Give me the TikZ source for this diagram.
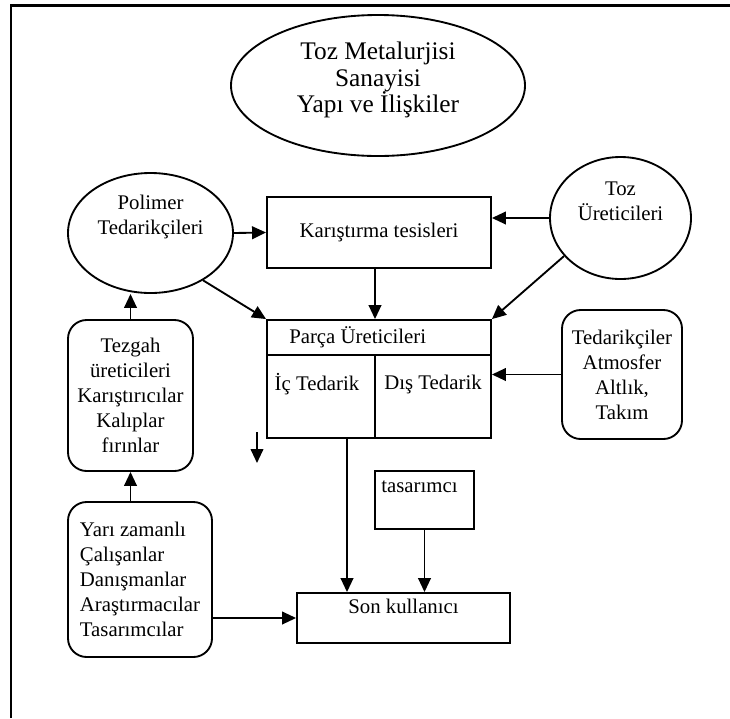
\documentclass[tikz,border=0pt]{standalone}
\usepackage{fontspec}
\setmainfont{Liberation Serif}
\usetikzlibrary{shapes.geometric,arrows.meta}

\tikzset{
  body/.style={font=\fontsize{15.6}{18.7}\selectfont},
  bubble/.style={draw, ellipse, line width=1.4pt, inner sep=0pt},
  box/.style={draw, rectangle, line width=1.4pt, inner sep=2pt, body},
  rbox/.style={box, rounded corners=14pt, align=center},
  lbl/.style={body, align=center, inner sep=0pt},
  arr/.style={-{Triangle[length=10.5pt,width=9.5pt]}, line width=1.4pt},
}

\begin{document}
\begin{tikzpicture}[x=0.75pt, y=-0.75pt]
    \useasboundingbox (0,0) rectangle (730,718);
    % outer frame (only left and top edges are visible)
    \draw[line width=2pt] (11,718) -- (11,5.5) -- (730,5.5);

    % title
    \node[bubble, minimum width=220.5pt, minimum height=105.75pt] (baslik) at (378,85.5) {};
    \node[lbl, font=\fontsize{19}{20}\selectfont, yshift=4pt] (baslikT) at (baslik) {Toz Metalurjisi\\Sanayisi\\Yapı ve İlişkiler};

    % suppliers
    \node[bubble, minimum width=123.75pt, minimum height=90pt] (polimer) at (150.5,233) {};
    \node[lbl, yshift=12pt] (polimerT) at (polimer) {Polimer\\Tedarikçileri};
    \node[bubble, minimum width=105.75pt, minimum height=91.5pt] (toz) at (620.5,218) {};
    \node[lbl, yshift=12.5pt] (tozT) at (toz) {Toz\\Üreticileri};

    \node[box, minimum width=168pt, minimum height=53.25pt] (karistirma) at (379,232.5) {Karıştırma tesisleri};

    % parts makers
    \node[box, minimum width=168pt, minimum height=88.5pt] (parca) at (379,379) {};
    \coordinate (ust) at (267,355);
    \coordinate (bol) at (375,355);
    \draw[line width=1.4pt] (parca.west |- ust) -- (parca.east |- ust);
    \draw[line width=1.4pt] (bol) -- (bol |- parca.south);
    \node[lbl, anchor=west] (parcaT) at (289,337) {Parça Üreticileri};
    \node[lbl] (ic) at (317,384) {İç Tedarik};
    \node[lbl] (dis) at (433,384) {Dış Tedarik};

    \node[rbox, minimum width=90pt, minimum height=96.75pt] (tedarik) at (622,374.5) {Tedarikçiler\\Atmosfer\\Altlık,\\Takım};
    \node[rbox, minimum width=93.75pt, minimum height=113.25pt] (tezgah) at (130.5,395.5) {Tezgah\\üreticileri\\Karıştırıcılar\\Kalıplar\\fırınlar};
    \node[rbox, align=left, minimum width=108pt, minimum height=116.25pt] (yari) at (140,579.5) {Yarı zamanlı\\Çalışanlar\\Danışmanlar\\Araştırmacılar\\Tasarımcılar};

    \node[box, minimum width=74.25pt, minimum height=43.5pt] (tasarimci) at (424.5,500) {};
    \node[lbl, anchor=north west, xshift=5.25pt, yshift=-7.5pt] (tasarimciT) at (tasarimci.north west) {tasarımcı};
    \node[box, minimum width=159.75pt, minimum height=37.5pt] (son) at (403.5,618) {};
    \node[lbl, anchor=north, yshift=-5.25pt] (sonT) at (son.north) {Son kullanıcı};

    % connections
    \draw[arr] (polimer.east) -- (karistirma.west);
    \draw[arr] (toz.west) -- (toz.west -| karistirma.east);
    \draw[arr] (karistirma.south -| bol) -- (parca.north -| bol);
    \draw[arr] (polimer.-42) -- (parca.north west);
    \draw[arr] (toz.214) -- (parca.north east);
    \draw[arr] (tedarik.west) -- (tedarik.west -| parca.east);
    \draw[arr] (tezgah.north) -- (tezgah.north |- polimer.south);
    \draw[arr] (tezgah.south |- yari.north) -- (tezgah.south);
    \draw[arr] (yari.east |- son.west) -- (son.west);
    \coordinate (icx) at (347,0);
    \draw[arr] (parca.south -| icx) -- (son.north -| icx);
    \draw[arr] (tasarimci.south) -- (tasarimci.south |- son.north);
    % loose arrow below the parts box
    \coordinate (ok1) at (257,432);
    \coordinate (ok2) at (257,463);
    \draw[arr] (ok1) -- (ok2);
\end{tikzpicture}
\end{document}
